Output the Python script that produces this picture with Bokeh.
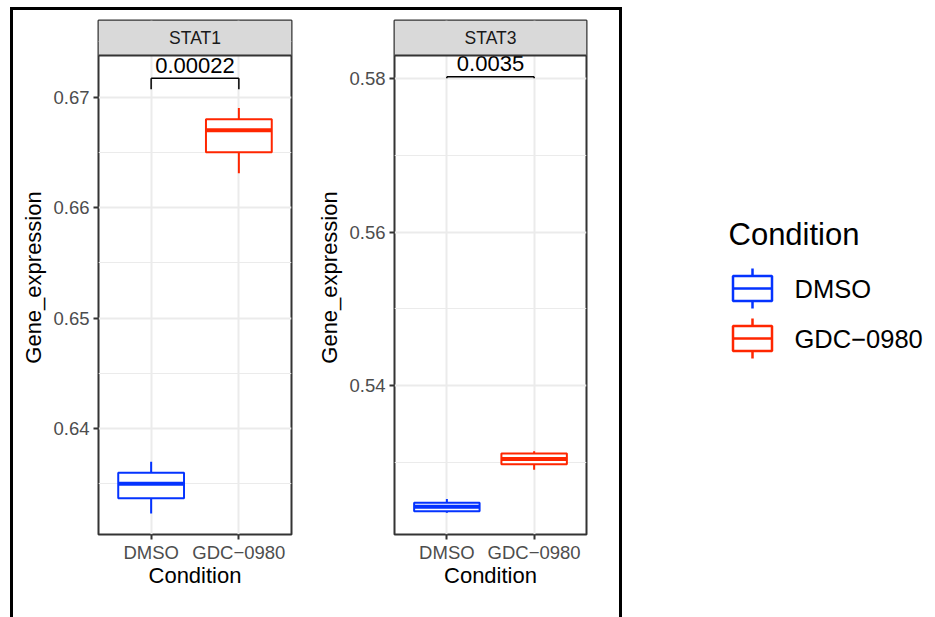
from bokeh.plotting import figure
from bokeh.models import Range1d, FixedTicker, ColumnDataSource
from bokeh.layouts import row
from bokeh.embed import file_html
from bokeh.resources import INLINE
from bokeh.core.properties import value

# ---------------- data ----------------
genes = ["STAT1", "STAT3"]
conditions = ["DMSO", "GDC\u22120980"]
colors = ["#0433FF", "#FF2600"]

stat1_low = [0.6323, 0.6631]
stat1_q1 = [0.6337, 0.6650]
stat1_med = [0.6350, 0.6670]
stat1_q3 = [0.6360, 0.6680]
stat1_high = [0.6370, 0.6690]

stat3_low = [0.5235, 0.5291]
stat3_q1 = [0.5237, 0.5298]
stat3_med = [0.5243, 0.5305]
stat3_q3 = [0.5248, 0.5312]
stat3_high = [0.5253, 0.5315]

stat1_ticks = [0.64, 0.65, 0.66, 0.67]
stat3_ticks = [0.54, 0.56, 0.58]

pvalues = ["0.00022", "0.0035"]
bracket_y = [0.6717, 0.58018]
bracket_tip = [0.6707, 0.5800]

stat1_limits = (0.63041, 0.67376)
stat3_limits = (0.52068, 0.58295)

FONT = "Liberation Sans"
BOX_W = 0.75


def make_panel(gene, low, q1, med, q3, high, ticks, limits, pval, by, bt,
               width, left, right):
    lo, hi = limits
    plot_px = 479
    strip_px = 35
    per_px = (hi - lo) / plot_px
    top = hi + strip_px * per_px
    p = figure(width=width, height=607, x_range=Range1d(0.4, 2.6),
               y_range=Range1d(lo, top), output_backend="svg",
               toolbar_location=None, min_border_left=left,
               min_border_right=right, min_border_top=10,
               min_border_bottom=83)
    p.outline_line_color = "#333333"
    p.outline_line_width = 2

    xs = [i + 1 for i in range(len(conditions))]
    src = ColumnDataSource(dict(
        x=xs,
        left=[x - BOX_W / 2 for x in xs],
        right=[x + BOX_W / 2 for x in xs],
        low=low, q1=q1, med=med, q3=q3, high=high, color=colors))

    # grid
    step = ticks[1] - ticks[0]
    minor = [t - step / 2 for t in ticks] + [ticks[-1] + step / 2]
    p.xgrid.ticker = FixedTicker(ticks=xs)
    p.xgrid.grid_line_color = "#EBEBEB"
    p.xgrid.grid_line_width = 2
    p.ygrid.ticker = FixedTicker(ticks=ticks, minor_ticks=minor)
    p.ygrid.grid_line_color = "#EBEBEB"
    p.ygrid.grid_line_width = 2
    p.ygrid.minor_grid_line_color = "#EBEBEB"
    p.ygrid.minor_grid_line_width = 1

    # boxes
    p.segment(x0="x", y0="low", x1="x", y1="q1", source=src,
              line_color="color", line_width=2)
    p.segment(x0="x", y0="q3", x1="x", y1="high", source=src,
              line_color="color", line_width=2)
    p.quad(left="left", right="right", bottom="q1", top="q3", source=src,
           fill_color="white", line_color="color", line_width=2)
    p.segment(x0="left", y0="med", x1="right", y1="med", source=src,
              line_color="color", line_width=4)

    # significance bracket
    p.segment(x0=[xs[0], xs[0], xs[1]], y0=[by, by, by],
              x1=[xs[1], xs[0], xs[1]], y1=[by, bt, bt],
              line_color="black", line_width=1.5)
    p.text(x=[(xs[0] + xs[1]) / 2], y=[by + 13 * per_px], text=[pval],
           text_font=value(FONT), text_font_size="22px",
           text_align="center", text_baseline="middle",
           text_color="black")

    # facet strip
    p.quad(left=[0.4], right=[2.6], bottom=[hi], top=[top],
           fill_color="#D9D9D9", line_color=None)
    p.segment(x0=[0.4], y0=[hi], x1=[2.6], y1=[hi],
              line_color="#333333", line_width=2)
    p.text(x=[1.5], y=[(hi + top) / 2], text=[gene],
           text_font=value(FONT), text_font_size="17.5px",
           text_align="center", text_baseline="middle",
           text_color="#1A1A1A")

    # axes
    p.yaxis.ticker = FixedTicker(ticks=ticks, minor_ticks=[])
    p.xaxis.ticker = FixedTicker(ticks=xs, minor_ticks=[])
    p.xaxis.major_label_overrides = {x: c for x, c in zip(xs, conditions)}
    p.yaxis.axis_label = "Gene_expression"
    p.xaxis.axis_label = "Condition"
    for ax in (p.xaxis[0], p.yaxis[0]):
        ax.axis_line_color = None
        ax.major_tick_line_color = "#333333"
        ax.major_tick_line_width = 2
        ax.major_tick_out = 5
        ax.major_tick_in = 0
        ax.minor_tick_line_color = None
        ax.major_label_text_font = FONT
        ax.major_label_text_font_size = "18.5px"
        ax.major_label_text_color = "#4D4D4D"
        ax.axis_label_text_font = FONT
        ax.axis_label_text_font_size = "22px"
        ax.axis_label_text_font_style = "normal"
        ax.axis_label_text_color = "black"
    p.yaxis[0].major_label_standoff = 4
    p.yaxis[0].axis_label_standoff = 4
    p.xaxis[0].major_label_standoff = 2
    p.xaxis[0].axis_label_standoff = -3
    return p


p1 = make_panel(genes[0], stat1_low, stat1_q1, stat1_med, stat1_q3, stat1_high,
                stat1_ticks, stat1_limits, pvalues[0], bracket_y[0],
                bracket_tip[0], width=292, left=85, right=14)
p2 = make_panel(genes[1], stat3_low, stat3_q1, stat3_med, stat3_q3, stat3_high,
                stat3_ticks, stat3_limits, pvalues[1], bracket_y[1],
                bracket_tip[1], width=314, left=89, right=33)

# ---------------- legend ----------------
lg = figure(width=313, height=617, x_range=Range1d(0, 313),
            y_range=Range1d(617, 0), output_backend="svg",
            toolbar_location=None, x_axis_location=None,
            y_axis_location=None, min_border=0)
lg.grid.visible = False
lg.outline_line_color = None
lg.text(x=[106], y=[234], text=["Condition"], text_font=value(FONT),
        text_font_size="31px", text_baseline="middle", text_color="black")
for i, (cond, col) in enumerate(zip(conditions, colors)):
    cy = 288 + 50 * i
    lg.segment(x0=[130, 130], y0=[cy - 20, cy + 12.5],
               x1=[130, 130], y1=[cy - 12.5, cy + 20],
               line_color=col, line_width=2.5)
    lg.quad(left=[110.5], right=[149.5], bottom=[cy + 12.5], top=[cy - 12.5],
            fill_color="white", line_color=col, line_width=2.5)
    lg.segment(x0=[110.5], y0=[cy], x1=[149.5], y1=[cy],
               line_color=col, line_width=2.5)
    lg.text(x=[172], y=[cy], text=[cond], text_font=value(FONT),
            text_font_size="25.5px", text_baseline="middle",
            text_color="black")

panels = row(p1, p2, margin=(7, 0, 0, 10),
             styles={"border-top": "3px solid black",
                     "border-left": "3px solid black",
                     "border-right": "3px solid black",
                     "border-bottom": "none"})
layout = row(panels, lg)

open("out.html", "w").write(file_html(layout, INLINE))
